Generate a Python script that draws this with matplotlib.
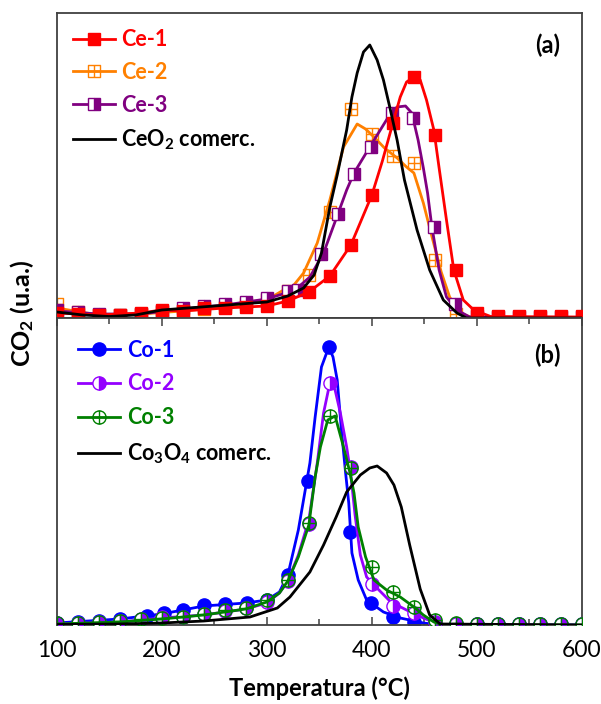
import matplotlib
matplotlib.use("Agg")
import matplotlib.pyplot as plt
from matplotlib.path import Path
from matplotlib.lines import Line2D
import numpy as np

plt.rcParams['font.family'] = ['Lato', 'DejaVu Sans']
plt.rcParams['mathtext.fontset'] = 'custom'
plt.rcParams['mathtext.rm'] = 'Lato'
plt.rcParams['mathtext.bf'] = 'Lato:bold'
plt.rcParams['mathtext.it'] = 'Lato:italic'

# ---------------- Panel (a) data ----------------
ce1_mT = [100,120,140,160,180,200,220,240,260,280,300,320,340,360,380,400,420,440,460,480,500,520,540,560,580,600]
ce1_mh = [5,4,3,3,5,8,7,10,10,11,12,17,26,42,73,123,195,241,183,48,5,2.5,2.5,2.5,2.5,2.5]
ce1_lT = [100,140,180,200,220,260,300,320,340,360,380,400,410,420,427,433,440,446,452,459,464,471,478,487,497,513,600]
ce1_lh = [5,3,5,8,7,10,12,17,26,42,73,123,157,195,221,236,241,238,218,188,150,98,48,18,8,1.5,1]

ce2_mT = [100,120,140,160,180,200,220,240,260,280,300,320,340,360,380,400,420,440,460,480]
ce2_mh = [14,6,3,3,4,6,7,9,11,14,18,27,43,106,209,184,162,155,58,4]
ce2_lT = [100,140,180,220,260,300,316,325,335,348,360,373,386,394,402,412,424,433,440,449,457,466,474,484,495,600]
ce2_lh = [10,3,4,7,11,18,28,32,45,75,118,171,194,189,181,170,160,151,145,115,82,46,21,5,0.5,0]

ce3_mT = [100,120,140,160,180,200,220,240,260,280,300,320,330,352,368,383,399,419,439,459,479,500,520,540,560,580,600]
ce3_mh = [8,6,4,3,4,7,10,12,14,16,20,27,28,64,104,144,171,205,200,91,14,2,1,1,1,1,1]
ce3_lT = [100,140,180,220,260,300,318,329,341,354,368,376,383,398,408,418,424,432,438,444,449,453,457,464,471,481,493,600]
ce3_lh = [7,4,4,9,13,19,25,30,41,65,105,128,145,171,188,205,211,212,205,178,150,125,92,48,21,8,1,0]

ceo2_T = [100,125,150,175,200,250,300,320,335,345,352,360,367,376,381,386,392,398,405,411,417,424,431,443,455,468,481,490,600]
ceo2_h = [6,3,1.5,3,8,12,16,22,30,43,65,111,143,188,221,245,266,273,258,238,211,178,138,88,48,18,5,0,0]

# ---------------- Panel (b) data ----------------
co1_mT = [100,120,140,160,186,202,220,240,260,281,300,320,339,359,379,399,420,440,460,480,500,520,540,560,580,600]
co1_mh = [2,3,4,6,9,12,15,20,21,22,25,50,144,278,93,22,8,3,1,1,1,1,1,1,1,1]
co1_lT = [100,160,200,240,280,300,312,320,330,341,346,352,359,363,367,371,375,378,381,387,395,411,427,449,465,600]
co1_lh = [2,6,11,19,22,25,33,50,95,162,208,258,278,268,245,195,152,122,72,45,25,13,7,2,0,0]

co2_mT = [100,120,140,160,180,200,220,240,260,280,300,320,340,360,380,400,420,440,460,480,500,520,540,560,580,600]
co2_mh = [2,2,3,4,6,8,8,11,14,17,23,44,101,242,158,41,19,12,3,1,1,1,1,1,1,1]
co2_lT = [100,160,200,240,280,300,312,320,330,340,348,354,360,365,370,376,380,384,389,395,402,418,433,449,461,470,600]
co2_lh = [1,3,7,10,16,22,32,44,70,105,162,212,242,235,212,178,150,110,70,48,40,23,15,7,2,0,0]

co3_mT = [100,120,140,160,180,200,220,240,260,280,300,320,340,360,380,400,420,440,460,480,500,520,540,560,580,600]
co3_mh = [2,2,3,4,6,7,8,11,15,17,25,45,102,209,157,58,33,18,5,2,1,1,1,1,1,1]
co3_lT = [100,160,200,240,280,300,312,320,330,340,346,351,358,365,373,379,383,387,394,402,414,427,440,449,459,468,600]
co3_lh = [1,3,6,10,16,23,32,44,68,100,148,178,205,209,178,153,132,98,68,45,35,28,18,10,3,0,0]

co3o4_T = [100,160,200,240,284,310,322,341,354,366,376,389,398,405,414,421,428,436,446,455,465,600]
co3o4_h = [0.5,1,2,4,8,17,28,53,80,108,133,150,157,159,152,140,118,80,36,10,1,0]

xticks = [100, 200, 300, 400, 500, 600]

# colours
RED = '#FF0000'
ORANGE = '#FF8000'
PURPLE = '#800080'
BLUE = '#0000FF'
VIOLET = '#9400FF'
GREEN = '#008000'

# custom markers
sq_plus = Path([(-1,-1),(1,-1),(1,1),(-1,1),(-1,-1),(-1,0),(1,0),(0,-1),(0,1)],
               [Path.MOVETO,Path.LINETO,Path.LINETO,Path.LINETO,Path.CLOSEPOLY,
                Path.MOVETO,Path.LINETO,Path.MOVETO,Path.LINETO])
circ = Path.unit_circle()
cross = Path([(-1,0),(1,0),(0,-1),(0,1)],[Path.MOVETO,Path.LINETO,Path.MOVETO,Path.LINETO])
circ_plus = Path.make_compound_path(circ, cross)

fig = plt.figure(figsize=(6.01, 7.04), dpi=100)
L, R = 56.7/601, 582/601
axa = fig.add_axes([L, 1-318/704, R-L, (318-13)/704])
axb = fig.add_axes([L, 1-625/704, R-L, (625-318)/704])

lw = 2.0

def series(ax, lT, lh, mT, mh, color, z, **mk):
    ax.plot(lT, lh, color=color, lw=lw, zorder=z, solid_joinstyle='round')
    ax.plot(mT, mh, ls='none', zorder=z+0.5, **mk)
    return Line2D([], [], color=color, lw=lw, **mk)

h2 = series(axa, ce2_lT, ce2_lh, ce2_mT, ce2_mh, ORANGE, 2,
            marker=sq_plus, markersize=8.5, markerfacecolor='none', markeredgecolor=ORANGE, markeredgewidth=1.0)
h3 = series(axa, ce3_lT, ce3_lh, ce3_mT, ce3_mh, PURPLE, 3,
            marker='s', markersize=8.5, fillstyle='right', markerfacecolor=PURPLE,
            markerfacecoloralt='white', markeredgecolor=PURPLE, markeredgewidth=1.0)
h1 = series(axa, ce1_lT, ce1_lh, ce1_mT, ce1_mh, RED, 4,
            marker='s', markersize=9, markerfacecolor=RED, markeredgecolor=RED)
axa.plot(ceo2_T, ceo2_h, color='black', lw=lw, zorder=5)
h4 = Line2D([], [], color='black', lw=lw)

g1 = series(axb, co1_lT, co1_lh, co1_mT, co1_mh, BLUE, 2,
            marker='o', markersize=9.5, markerfacecolor=BLUE, markeredgecolor=BLUE)
g2 = series(axb, co2_lT, co2_lh, co2_mT, co2_mh, VIOLET, 3,
            marker='o', markersize=9.5, fillstyle='right', markerfacecolor=VIOLET,
            markerfacecoloralt='white', markeredgecolor=VIOLET, markeredgewidth=1.0)
g3 = series(axb, co3_lT, co3_lh, co3_mT, co3_mh, GREEN, 4,
            marker=circ_plus, markersize=9.5, markerfacecolor='none', markeredgecolor=GREEN, markeredgewidth=1.0)
axb.plot(co3o4_T, co3o4_h, color='black', lw=lw, zorder=5)
g4 = Line2D([], [], color='black', lw=lw)

for ax in (axa, axb):
    ax.set_xlim(100, 600)
    ax.set_yticks([])
    for s in ax.spines.values():
        s.set_color('#404040')
        s.set_linewidth(1.3)
axa.set_ylim(0, 305)
axb.set_ylim(0, 307)
axa.set_xticks([])
axa.tick_params(axis='x', which='both', bottom=False, labelbottom=False)
axb.set_xticks(xticks)
axb.set_xticks(np.arange(150, 600, 100), minor=True)
axb.tick_params(axis='x', which='both', direction='in', top=True, bottom=True, color='#404040')
axb.tick_params(axis='x', which='major', length=6, width=1.1, labelsize=16.5, pad=11)
axb.tick_params(axis='x', which='minor', length=4, width=1.1)
axb.set_xlabel('Temperatura (°C)', fontsize=17, fontweight='bold', labelpad=11)

fig.text(0.036, 0.555, r'CO$_\mathbf{2}$ (u.a.)', rotation=90, fontsize=18, fontweight='bold',
         ha='center', va='center')

axa.text(0.935, 0.895, '(a)', transform=axa.transAxes, fontsize=17, fontweight='bold', ha='center', va='center')
axb.text(0.935, 0.88, '(b)', transform=axb.transAxes, fontsize=17, fontweight='bold', ha='center', va='center')

def legend(ax, handles, labels, colors, spacing, bpad):
    lg = ax.legend(handles, labels, loc='upper left', frameon=False, numpoints=1,
                   prop={'size': 15.5, 'weight': 'bold'}, handlelength=1.95, handletextpad=0.3,
                   labelspacing=spacing, borderaxespad=0.3, borderpad=bpad)
    for t, c in zip(lg.get_texts(), colors):
        t.set_color(c)
    return lg

legend(axa, [h1, h2, h3, h4], ['Ce-1', 'Ce-2', 'Ce-3', r'CeO$_\mathbf{2}$ comerc.'],
       [RED, ORANGE, PURPLE, 'black'], 0.55, 0.45)
legend(axb, [g1, g2, g3, g4], ['Co-1', 'Co-2', 'Co-3', r'Co$_\mathbf{3}$O$_\mathbf{4}$ comerc.'],
       [BLUE, VIOLET, GREEN, 'black'], 0.6, 0.7)

fig.savefig('out.png', dpi=100)
